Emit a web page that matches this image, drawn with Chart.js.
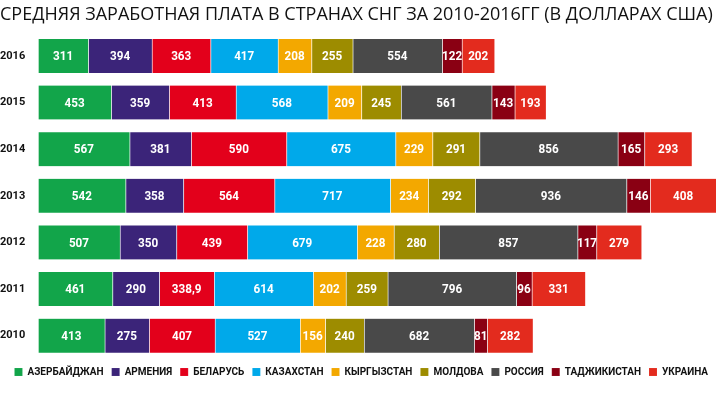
<!DOCTYPE html>
<html>
<head>
<meta charset="utf-8">
<script src="https://cdn.jsdelivr.net/npm/chart.js@4"></script>
<style>
  html, body { margin: 0; padding: 0; background: #fff; }
  #wrap { width: 720px; height: 397px; }
</style>
</head>
<body>
<div id="wrap"><canvas id="salaryChart"></canvas></div>
<script>
// years top to bottom, as in the picture
const years = ['2016', '2015', '2014', '2013', '2012', '2011', '2010'];

const azerbaijan = [311, 453, 567, 542, 507, 461, 413];
const armenia    = [394, 359, 381, 358, 350, 290, 275];
const belarus    = [363, 413, 590, 564, 439, 338.9, 407];
const kazakhstan = [417, 568, 675, 717, 679, 614, 527];
const kyrgyzstan = [208, 209, 229, 234, 228, 202, 156];
const moldova    = [255, 245, 291, 292, 280, 259, 240];
const russia     = [554, 561, 856, 936, 857, 796, 682];
const tajikistan = [122, 143, 165, 146, 117, 96, 81];
const ukraine    = [202, 193, 293, 408, 279, 331, 282];

const series = [
  { label: 'АЗЕРБАЙДЖАН', data: azerbaijan, color: '#12a54a' },
  { label: 'АРМЕНИЯ',     data: armenia,    color: '#3b2479' },
  { label: 'БЕЛАРУСЬ',    data: belarus,    color: '#e3001b' },
  { label: 'КАЗАХСТАН',   data: kazakhstan, color: '#00a9ea' },
  { label: 'КЫРГЫЗСТАН',  data: kyrgyzstan, color: '#f3a800' },
  { label: 'МОЛДОВА',     data: moldova,    color: '#9d8c00' },
  { label: 'РОССИЯ',      data: russia,     color: '#494949' },
  { label: 'ТАДЖИКИСТАН', data: tajikistan, color: '#8a0013' },
  { label: 'УКРАИНА',     data: ukraine,    color: '#e32b1e' }
];

// biggest row total, so the longest bar reaches the right edge
const totals = years.map((y, i) => series.reduce((s, d) => s + d.data[i], 0));
const maxTotal = Math.max(...totals);

const bold = "'Roboto', sans-serif";

// white value labels in the middle of each segment (squeezed a bit, like a condensed face)
const segmentLabels = {
  id: 'segmentLabels',
  afterDatasetsDraw(chart) {
    const ctx = chart.ctx;
    chart.data.datasets.forEach((ds, di) => {
      chart.getDatasetMeta(di).data.forEach((bar, i) => {
        const txt = String(ds.data[i]).replace('.', ',');
        ctx.save();
        ctx.translate((bar.x + bar.base) / 2, bar.y + 1);
        ctx.scale(0.9, 1);
        ctx.fillStyle = '#fff';
        ctx.font = "bold 13px " + bold;
        ctx.textAlign = 'center';
        ctx.textBaseline = 'middle';
        ctx.fillText(txt, 0, 0);
        ctx.restore();
      });
    });
  }
};

new Chart(document.getElementById('salaryChart'), {
  type: 'bar',
  data: {
    labels: years,
    datasets: series.map(s => ({
      label: s.label,
      data: s.data,
      backgroundColor: s.color,
      borderColor: 'rgba(255,255,255,0.35)',
      borderWidth: { left: 1, right: 0, top: 0, bottom: 0 },
      borderSkipped: false,
      barThickness: 34
    }))
  },
  options: {
    indexAxis: 'y',
    responsive: true,
    maintainAspectRatio: false,
    animation: false,
    layout: { padding: { left: 0, right: 4, top: 0, bottom: 10 } },
    scales: {
      x: {
        stacked: true,
        display: false,
        min: 0,
        max: maxTotal
      },
      y: {
        stacked: true,
        grid: { display: false },
        border: { display: false },
        afterFit(scale) { scale.width = 38; },
        ticks: {
          crossAlign: 'far',
          padding: 0,
          color: '#111',
          font: { family: bold, size: 11, weight: 'bold' }
        }
      }
    },
    plugins: {
      title: {
        display: true,
        text: 'СРЕДНЯЯ ЗАРАБОТНАЯ ПЛАТА В СТРАНАХ СНГ ЗА 2010-2016ГГ (В ДОЛЛАРАХ США)',
        align: 'start',
        color: '#111',
        font: { family: "'Open Sans', sans-serif", size: 18, weight: 'normal' },
        padding: { top: 4, bottom: 7 }
      },
      legend: {
        position: 'bottom',
        align: 'end',
        labels: {
          boxWidth: 8,
          boxHeight: 8,
          padding: 8,
          color: '#111',
          font: { family: bold, size: 10, weight: 'bold' }
        }
      },
      tooltip: { enabled: false }
    }
  },
  plugins: [segmentLabels]
});
</script>
</body>
</html>
